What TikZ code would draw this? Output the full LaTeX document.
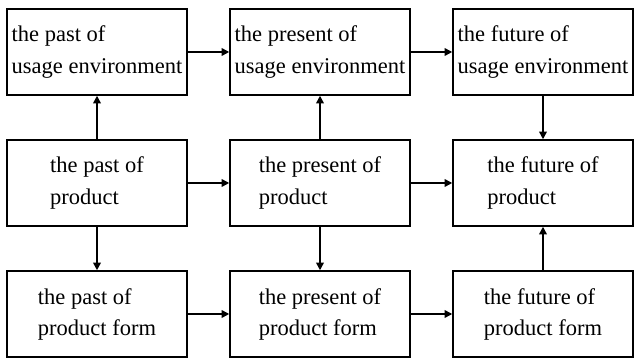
\documentclass[tikz,border=0pt]{standalone}
\usepackage{fontspec}
\setmainfont{Liberation Serif}
\usepackage{tikz}
\usetikzlibrary{arrows.meta}

\begin{document}
\begin{tikzpicture}[
      sbox/.style={rectangle, draw=black, line width=1.3pt, minimum width=5.4cm,
                   minimum height=2.58cm, align=left, inner sep=0pt,
                   font=\fontsize{19.2}{26.5}\selectfont},
      arr/.style={-{Triangle[length=6.5pt, width=6.5pt]}, draw=black, line width=1.3pt}
    ]
    \useasboundingbox (0,0) rectangle (19.08,10.74);

    \node[sbox] (pastenv) at (2.91, 9.18)  {the past of\\usage environment};
    \node[sbox] (presenv) at (9.60, 9.18)  {the present of\\usage environment};
    \node[sbox] (futenv)  at (16.29,9.18)  {the future of\\usage environment};

    \node[sbox] (pastprod) at (2.91, 5.25) {the past of\\product};
    \node[sbox] (presprod) at (9.60, 5.25) {the present of\\product};
    \node[sbox] (futprod)  at (16.29,5.25) {the future of\\product};

    \node[sbox] (pastform) at (2.91, 1.32) {the past of\\product form};
    \node[sbox] (presform) at (9.60, 1.32) {the present of\\product form};
    \node[sbox] (futform)  at (16.29,1.32) {the future of\\product form};

    % along each row
    \draw[arr] (pastenv)  -- (presenv);
    \draw[arr] (presenv)  -- (futenv);
    \draw[arr] (pastprod) -- (presprod);
    \draw[arr] (presprod) -- (futprod);
    \draw[arr] (pastform) -- (presform);
    \draw[arr] (presform) -- (futform);

    % between the rows
    \draw[arr] (pastprod) -- (pastenv);
    \draw[arr] (presprod) -- (presenv);
    \draw[arr] (futenv)   -- (futprod);
    \draw[arr] (pastprod) -- (pastform);
    \draw[arr] (presprod) -- (presform);
    \draw[arr] (futform)  -- (futprod);
  \end{tikzpicture}
\end{document}
